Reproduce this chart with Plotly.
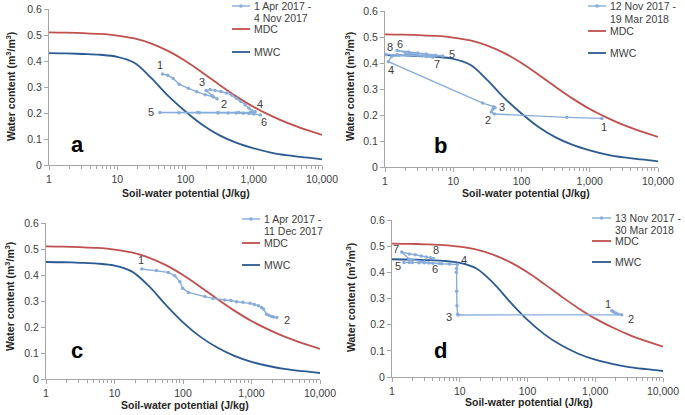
import math
import plotly.graph_objects as go

W, H = 685, 415

# ---------------- data ----------------
potential_grid = [1, 1.78, 3.16, 5.62, 10, 17.8, 31.6, 56.2, 100, 178, 316, 562,
                  1000, 1778, 3162, 5623, 10000]
mdc = [0.510, 0.509, 0.507, 0.504, 0.498, 0.487, 0.467, 0.438, 0.400, 0.355, 0.308,
       0.263, 0.223, 0.190, 0.161, 0.137, 0.116]
mwc_ab = [0.430, 0.429, 0.427, 0.424, 0.416, 0.393, 0.334, 0.265, 0.206, 0.154, 0.114,
          0.085, 0.064, 0.048, 0.037, 0.029, 0.022]
mwc_cd = [0.450, 0.449, 0.447, 0.444, 0.436, 0.414, 0.358, 0.285, 0.218, 0.163, 0.121,
          0.089, 0.066, 0.050, 0.038, 0.030, 0.023]

a_psi = [46, 55, 66, 81, 110, 146, 194, 256, 290, 250, 200, 230, 270, 330, 400, 480, 560,
         650, 750, 850, 950, 1050, 900, 600, 300, 150, 42, 80, 160, 300, 420, 550, 700,
         850, 1000, 1250]
a_theta = [0.350, 0.345, 0.333, 0.311, 0.295, 0.282, 0.270, 0.262, 0.255, 0.265, 0.287,
           0.290, 0.287, 0.283, 0.277, 0.268, 0.257, 0.244, 0.232, 0.218, 0.208, 0.205,
           0.203, 0.202, 0.202, 0.202, 0.202, 0.201, 0.201, 0.200, 0.200, 0.200, 0.199,
           0.198, 0.196, 0.192]
a_label_idx = [0, 8, 10, 21, 26, 35]

b_psi = [1500, 460, 40, 36, 38, 41, 39, 27, 1.12, 1.25, 1.6, 2.2, 3.0, 4.2, 7.0, 5.5, 4.0,
         3.0, 2.2, 1.5, 2.0, 3.0, 4.0, 5.0, 3.5, 2.2, 1.5, 1.05]
b_theta = [0.187, 0.191, 0.204, 0.212, 0.222, 0.228, 0.232, 0.246, 0.405, 0.425, 0.430,
           0.432, 0.431, 0.428, 0.427, 0.430, 0.435, 0.438, 0.442, 0.448, 0.440, 0.432,
           0.425, 0.422, 0.427, 0.430, 0.432, 0.433]
b_label_idx = [0, 2, 5, 8, 14, 19, 23, 27]

c_psi = [25, 41, 61, 76, 90, 99, 120, 209, 276, 407, 500, 606, 750, 952, 1100, 1260,
         1400, 1490, 1660, 1800, 1970, 2100, 2340]
c_theta = [0.423, 0.417, 0.410, 0.397, 0.374, 0.349, 0.333, 0.317, 0.310, 0.304, 0.302,
           0.297, 0.295, 0.291, 0.287, 0.282, 0.275, 0.269, 0.249, 0.245, 0.240, 0.238,
           0.237]
c_label_idx = [0, 22]

d_psi = [1750, 1850, 2000, 2150, 2450, 9.5, 9.3, 9.1, 9.0, 8.9, 9.0, 9.2, 7.0, 5.0, 3.5,
         2.5, 1.8, 1.5, 2.0, 3.0, 4.0, 5.4, 3.0, 1.8, 1.39, 1.8, 2.2, 2.7, 3.2, 3.7, 4.07]
d_theta = [0.253, 0.249, 0.245, 0.241, 0.238, 0.237, 0.240, 0.272, 0.328, 0.400, 0.415,
           0.430, 0.432, 0.434, 0.436, 0.437, 0.438, 0.438, 0.438, 0.437, 0.435, 0.433,
           0.440, 0.450, 0.478, 0.470, 0.467, 0.462, 0.459, 0.456, 0.453]
d_label_idx = [0, 4, 5, 11, 17, 21, 24, 30]

series_names = [("1 Apr 2017 -", "4 Nov 2017"), ("12 Nov 2017 -", "19 Mar 2018"),
                ("1 Apr 2017 -", "11 Dec 2017"), ("13 Nov 2017 -", "30 Mar 2018")]
curve_names = ["MDC", "MWC"]
panel_letters = ["a", "b", "c", "d"]
x_tickvals = [1, 10, 100, 1000, 10000]
x_ticktext = ["1", "10", "100", "1,000", "10,000"]
y_tickvals = [0, 0.1, 0.2, 0.3, 0.4, 0.5, 0.6]
y_ticktext = ["0", "0.1", "0.2", "0.3", "0.4", "0.5", "0.6"]

# ---------------- styles ----------------
RED = "#C0504D"
DBLUE = "#2C5A92"
LBLUE = "#88ADDB"
AXC = "#A6A6A6"
TXT = "#404040"
FONT = "Liberation Sans, Arial, sans-serif"

# panel plot-area boxes in pixels: x0, x1, ytop, ybottom
boxes = [(49, 322, 9, 165), (385, 658, 11, 167), (46, 320, 223, 379), (392, 663, 220, 377)]
# label offsets (xshift, yshift) in px
offsets = [
    [(-2, 9), (7, -5), (-4, 8), (5, 8), (-9, 0), (4, -7)],
    [(2, -9), (-6, -6), (7, 1), (3, -8), (9, 2), (3, 7), (4, -7), (4, 7)],
    [(-1, 9), (10, -3)],
    [(-4, 7), (9, -4), (-9, -2), (7, 4), (-6, -4), (-7, -5), (-6, 3), (3, 8)],
]
# legend: sample-line x range, text x, y of (data line1, data line2, MDC, MWC)
leg_line_x = [(232, 250), (588, 606), (242, 260), (592, 611)]
leg_text_x = [252, 608, 262, 613]
leg_y = [(6, 18, 29, 52), (6, 19, 31, 53), (219, 231, 243, 265), (218, 230, 241, 262)]


def fx(px):
    return px / W


def fy(py):
    return 1 - py / H


fig = go.Figure()

datasets = [(a_psi, a_theta, a_label_idx, mwc_ab), (b_psi, b_theta, b_label_idx, mwc_ab),
            (c_psi, c_theta, c_label_idx, mwc_cd), (d_psi, d_theta, d_label_idx, mwc_cd)]

minor_vals = [m * 10 ** e for e in range(4) for m in range(2, 10)]
annotations = []
shapes = []
layout_extra = {}

for i, (psi, theta, lab_idx, mwc) in enumerate(datasets):
    n = i + 1
    xa = "x" if n == 1 else f"x{n}"
    ya = "y" if n == 1 else f"y{n}"

    fig.add_trace(go.Scatter(x=potential_grid, y=mdc, mode="lines", name="MDC",
                             line=dict(color=RED, width=1.8, shape="spline", smoothing=1.0),
                             xaxis=xa, yaxis=ya, hoverinfo="skip"))
    fig.add_trace(go.Scatter(x=potential_grid, y=mwc, mode="lines", name="MWC",
                             line=dict(color=DBLUE, width=1.8, shape="spline", smoothing=1.0),
                             xaxis=xa, yaxis=ya, hoverinfo="skip"))
    fig.add_trace(go.Scatter(x=psi, y=theta, mode="lines+markers",
                             name=" ".join(series_names[i]),
                             line=dict(color=LBLUE, width=1.4),
                             marker=dict(color=LBLUE, size=3.5, symbol="circle"),
                             xaxis=xa, yaxis=ya))

    x0, x1, yt, yb = boxes[i]
    ax_common = dict(showline=True, linecolor=AXC, linewidth=1, ticks="outside",
                     tickcolor=AXC, ticklen=4, showgrid=False, zeroline=False,
                     automargin=False,
                     tickfont=dict(family=FONT, size=10.5, color=TXT))
    layout_extra["xaxis" if n == 1 else f"xaxis{n}"] = dict(
        ax_common, type="log", range=[0, 4], domain=[fx(x0), fx(x1)], anchor=ya,
        tickvals=x_tickvals, ticktext=x_ticktext,
        minor=dict(tickvals=minor_vals, ticks="outside", ticklen=2.5, tickcolor=AXC))
    layout_extra["yaxis" if n == 1 else f"yaxis{n}"] = dict(
        ax_common, range=[0, 0.6], domain=[fy(yb), fy(yt)], anchor=xa,
        tickvals=y_tickvals, ticktext=y_ticktext)

    # legend (drawn)
    lx0, lx1 = leg_line_x[i]
    y1, y2, ymdc, ymwc = leg_y[i]
    for yy, col, w in [(y1, LBLUE, 1.4), (ymdc, RED, 1.8), (ymwc, DBLUE, 1.8)]:
        shapes.append(dict(type="line", xref="paper", yref="paper", x0=fx(lx0), x1=fx(lx1),
                           y0=fy(yy), y1=fy(yy), line=dict(color=col, width=w)))
    mx = (lx0 + lx1) / 2
    shapes.append(dict(type="circle", xref="paper", yref="paper", x0=fx(mx - 1.8),
                       x1=fx(mx + 1.8), y0=fy(y1 + 1.8), y1=fy(y1 - 1.8),
                       fillcolor=LBLUE, line=dict(width=0)))
    texts = [(series_names[i][0], y1), (series_names[i][1], y2),
             (curve_names[0], ymdc), (curve_names[1], ymwc)]
    for t, yy in texts:
        annotations.append(dict(x=fx(leg_text_x[i]), y=fy(yy), xref="paper", yref="paper",
                                text=t, showarrow=False, xanchor="left", yanchor="middle",
                                font=dict(family=FONT, size=10.5, color=TXT)))

    # point labels
    for k, idx in enumerate(lab_idx):
        dxs, dys = offsets[i][k]
        annotations.append(dict(x=math.log10(psi[idx]), y=theta[idx],
                                xref=xa, yref=ya, text=str(k + 1), showarrow=False,
                                xshift=dxs, yshift=dys,
                                font=dict(family=FONT, size=11, color=TXT)))

# axis titles & panel letters (paper coords)
ytitle_pos = [(10, 87), (349, 87), (9, 297), (350, 298)]
xtitle_pos = [(186, 193), (526, 193), (185, 405), (529, 402)]
letter_pos = [(77, 144), (440, 145), (77, 350), (440, 350)]
for i in range(4):
    annotations.append(dict(x=fx(ytitle_pos[i][0]), y=fy(ytitle_pos[i][1]), xref="paper",
                            yref="paper", text="Water content (m<sup>3</sup>/m<sup>3</sup>)",
                            textangle=-90, showarrow=False, xanchor="center", yanchor="middle",
                            font=dict(family=FONT, size=10.5, color="#262626", weight="bold")))
    annotations.append(dict(x=fx(xtitle_pos[i][0]), y=fy(xtitle_pos[i][1]), xref="paper",
                            yref="paper", text="Soil-water potential (J/kg)",
                            showarrow=False, xanchor="center", yanchor="middle",
                            font=dict(family=FONT, size=10.5, color="#262626", weight="bold")))
    annotations.append(dict(x=fx(letter_pos[i][0]), y=fy(letter_pos[i][1]), xref="paper",
                            yref="paper", text=panel_letters[i], showarrow=False,
                            xanchor="center", yanchor="middle",
                            font=dict(family=FONT, size=22, color="black", weight="bold")))

fig.update_layout(width=W, height=H, margin=dict(l=0, r=0, t=0, b=0),
                  paper_bgcolor="white", plot_bgcolor="white", showlegend=False,
                  annotations=annotations, shapes=shapes, **layout_extra)

fig.write_html("out.html", config={"displayModeBar": False},
               post_script="document.body.style.margin='0px';")
